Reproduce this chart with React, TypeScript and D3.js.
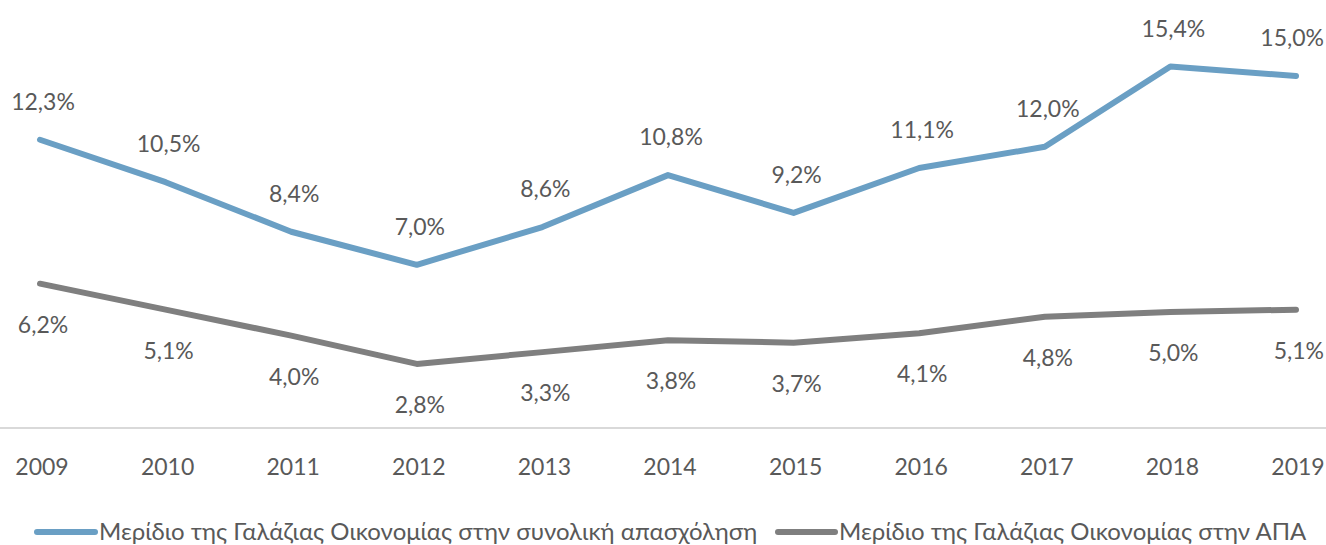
import React from "react";
import * as d3 from "d3";

const years = ["2009","2010","2011","2012","2013","2014","2015","2016","2017","2018","2019"];
const employmentShare = [12.3,10.5,8.4,7.0,8.6,10.8,9.2,11.1,12.0,15.4,15.0];
const gvaShare = [6.2,5.1,4.0,2.8,3.3,3.8,3.7,4.1,4.8,5.0,5.1];
const seriesNames = [
  "Μερίδιο της Γαλάζιας Οικονομίας στην συνολική απασχόληση",
  "Μερίδιο της Γαλάζιας Οικονομίας στην ΑΠΑ",
];

const W = 1326, H = 545;
const FONT = "Lato, 'Open Sans', sans-serif";
const BLUE = "#6a9fc4";
const GRAY = "#7f7f7f";
const TEXT = "#595959";

export default function App() {
  const x = d3.scalePoint<string>().domain(years).range([40, 1296]);
  const y = d3.scaleLinear().domain([0, 16]).range([430, 430 - 16 * 23.6]);
  const line = d3.line<number>().x((_, i) => x(years[i])!).y(d => y(d));
  const fmt = (v: number) => v.toFixed(1).replace(".", ",") + "%";
  const last = years.length - 1;

  const label = (v: number, i: number, dy: number, key: string) => {
    const isLast = i === last;
    return (
      <text key={key} x={isLast ? W - 2 : x(years[i])! + 3} y={y(v) + dy}
        textAnchor={isLast ? "end" : "middle"} fontSize={23} fill={TEXT}>{fmt(v)}</text>
    );
  };

  return (
    <svg width={W} height={H} style={{ position: "absolute", left: 0, top: 0, background: "#fff" }} fontFamily={FONT}>
      <line x1={0} x2={W} y1={428} y2={428} stroke="#d9d9d9" strokeWidth={2} />
      {years.map(yr => (
        <text key={yr} x={x(yr)! + 2} y={475} textAnchor="middle" fontSize={23} fill={TEXT}>{yr}</text>
      ))}
      <path d={line(employmentShare)!} fill="none" stroke={BLUE} strokeWidth={6} strokeLinejoin="round" strokeLinecap="round" />
      <path d={line(gvaShare)!} fill="none" stroke={GRAY} strokeWidth={6} strokeLinejoin="round" strokeLinecap="round" />
      {employmentShare.map((v, i) => label(v, i, -30, "b" + i))}
      {gvaShare.map((v, i) => label(v, i, 49, "g" + i))}
      <line x1={37} x2={95} y1={532} y2={532} stroke={BLUE} strokeWidth={6} strokeLinecap="round" />
      <text x={99} y={540} fontSize={24} fill={TEXT}>{seriesNames[0]}</text>
      <line x1={778} x2={835} y1={532} y2={532} stroke={GRAY} strokeWidth={6} strokeLinecap="round" />
      <text x={839} y={540} fontSize={24} fill={TEXT}>{seriesNames[1]}</text>
    </svg>
  );
}
